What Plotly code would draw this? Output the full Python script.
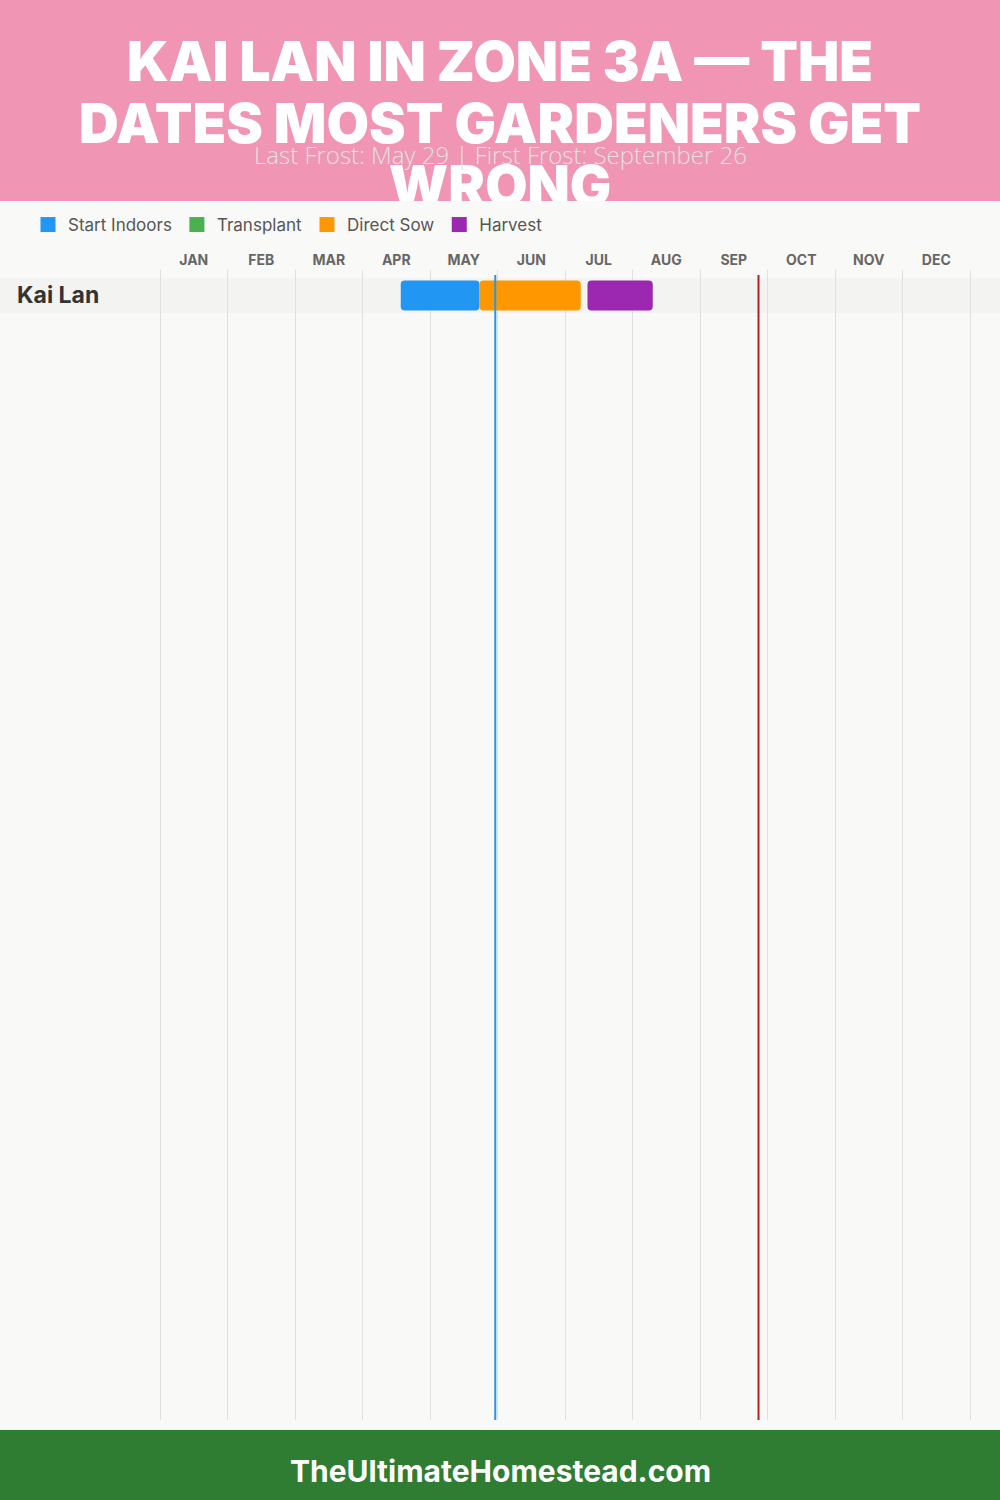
import plotly.graph_objects as go

# ---------------- data ----------------
months = ["JAN", "FEB", "MAR", "APR", "MAY", "JUN", "JUL", "AUG", "SEP", "OCT", "NOV", "DEC"]
crop = "Kai Lan"
phases = ["Start Indoors", "Transplant", "Direct Sow", "Harvest"]
phase_colors = ["#2196F3", "#4CAF50", "#FF9800", "#9C27B0"]
# (month, day) start / end for each phase, None = not used
phase_start = [(4, 17), None, (5, 22), (7, 10)]
phase_end = [(5, 22), None, (7, 7), (8, 9)]
last_frost = (5, 29)
first_frost = (9, 26)

title_lines = ["KAI LAN IN ZONE 3A — THE", "DATES MOST GARDENERS GET", "WRONG"]
subtitle = "Last Frost: May 29 | First Frost: September 26"
footer = "TheUltimateHomestead.com"


def pos(md):
    m, d = md
    return (m - 1) + d / 30.0


W, H = 1000, 1500
BODY_FONT = "Inter, Lato, sans-serif"

fig = go.Figure()

# legend-only markers
for name, col in zip(phases, phase_colors):
    fig.add_trace(go.Scatter(x=[None], y=[None], mode="markers", name=name,
                             marker=dict(symbol="square", size=15, color=col),
                             showlegend=True, hoverinfo="skip"))

# bars
for name, col, s, e in zip(phases, phase_colors, phase_start, phase_end):
    if s is None:
        continue
    fig.add_trace(go.Bar(orientation="h", y=[crop], base=[pos(s)], x=[pos(e) - pos(s)],
                         width=30 / 35, marker=dict(color=col, cornerradius=4, line=dict(width=0)),
                         name=name, showlegend=False, hoverinfo="skip"))

# header title as clipped text in header subplot
fig.add_trace(go.Scatter(x=[500, 500, 500], y=[67, 129, 191], mode="text", text=title_lines,
                         textfont=dict(family="Inter, sans-serif", size=55, color="white", weight=900),
                         cliponaxis=True, xaxis="x2", yaxis="y2", showlegend=False, hoverinfo="skip"))

plot_top, plot_bot = 270, 1420
plot_h = plot_bot - plot_top
row_h = 35
row_center_off = 25.5 / row_h

x0px, mpx = 160, 67.5

fig.update_layout(
    width=W, height=H,
    margin=dict(l=0, r=0, t=0, b=0),
    paper_bgcolor="#F9F9F7", plot_bgcolor="#F9F9F7",
    barmode="overlay",
    font=dict(family=BODY_FONT, color="#555"),
    xaxis=dict(domain=[0, 1], range=[-x0px / mpx, (W - x0px) / mpx], side="top",
               tickmode="array", tickvals=[i + 0.5 for i in range(12)], ticktext=months,
               tickfont=dict(size=14, color="#666", weight="bold"),
               showgrid=False, zeroline=False, showline=False, ticks="",
               ticklabelstandoff=1,
               minor=dict(tickmode="array", tickvals=list(range(13)), showgrid=True,
                          gridcolor="#E0E0E0", gridwidth=1, ticks=""),
               fixedrange=True),
    yaxis=dict(type="category", domain=[1 - plot_bot / H, 1 - plot_top / H],
               range=[plot_h / row_h - row_center_off, -row_center_off],
               showticklabels=False, showgrid=False, zeroline=False, fixedrange=True),
    xaxis2=dict(domain=[0, 1], range=[0, W], visible=False, fixedrange=True),
    yaxis2=dict(domain=[1 - 201 / H, 1], range=[201, 0], visible=False, fixedrange=True),
    legend=dict(orientation="h", x=0.028, xanchor="left", y=1 - 225 / H, yanchor="middle",
                font=dict(size=17, color="#555"), bgcolor="rgba(0,0,0,0)", itemclick=False),
    showlegend=True,
)

shapes = [
    # header
    dict(type="rect", xref="paper", yref="paper", x0=0, x1=1, y0=1 - 201 / H, y1=1,
         fillcolor="#F095B3", line=dict(width=0), layer="below"),
    # footer
    dict(type="rect", xref="paper", yref="paper", x0=0, x1=1, y0=0, y1=70 / H,
         fillcolor="#2E7D32", line=dict(width=0), layer="below"),
    # row band
    dict(type="rect", xref="paper", yref="y", x0=0, x1=1, y0=-0.5, y1=0.5,
         fillcolor="#F3F3F1", line=dict(width=0), layer="between"),
    # frost lines
    dict(type="line", xref="x", yref="y domain", x0=pos(last_frost), x1=pos(last_frost),
         y0=0, y1=1 - 5 / plot_h, line=dict(color="#2196F3", width=2), layer="above"),
    dict(type="line", xref="x", yref="y domain", x0=pos(first_frost), x1=pos(first_frost),
         y0=0, y1=1 - 5 / plot_h, line=dict(color="#B22222", width=2), layer="above"),
]
fig.update_layout(shapes=shapes)

fig.add_annotation(xref="paper", yref="paper", x=0.5, y=1 - 155 / H, text=subtitle,
                   showarrow=False, font=dict(family="Open Sans, sans-serif", size=24, color="#E2E2E2", weight=300),
                   xanchor="center", yanchor="middle")
fig.add_annotation(xref="paper", yref="y", x=0.015, y=0, text=crop, showarrow=False,
                   font=dict(family=BODY_FONT, size=23, color="#333", weight="bold"),
                   xanchor="left", yanchor="middle")
fig.add_annotation(xref="paper", yref="paper", x=0.5, y=1 - 1471 / H, text=footer,
                   showarrow=False, font=dict(family=BODY_FONT, size=30, color="white", weight="bold"),
                   xanchor="center", yanchor="middle")

fig.write_html("out.html", config={"displayModeBar": False},
               post_script="document.body.style.margin='0';")
